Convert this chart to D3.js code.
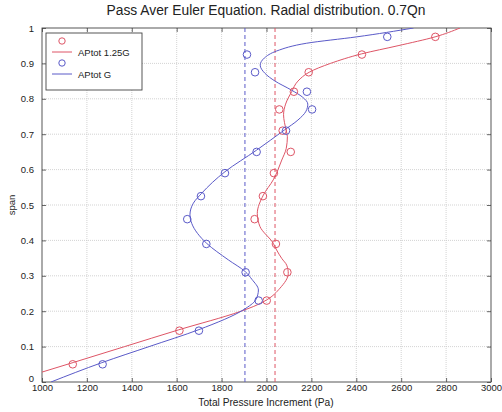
<!DOCTYPE html>
<html>
<head>
<meta charset="utf-8">
<script src="https://cdn.jsdelivr.net/npm/d3@7"></script>
<style>
  body { margin: 0; background: #fff; }
  text { font-family: "Liberation Sans", Arial, sans-serif; fill: #222; }
</style>
</head>
<body>
<svg id="chart" width="502" height="412"></svg>
<script>
// Measured points (span positions shared by both series)
const spanPoints = [0.05, 0.145, 0.23, 0.31, 0.39, 0.46, 0.525, 0.59, 0.65, 0.71, 0.77, 0.82, 0.875, 0.925, 0.975];
const redPoints  = [1137, 1612, 2001, 2093, 2042, 1947, 1984, 2033, 2108, 2072, 2057, 2122, 2188, 2425, 2752];
const bluePoints = [1270, 1699, 1965, 1907, 1732, 1647, 1708, 1815, 1956, 2087, 2203, 2180, 1949, 1913, 2538];

// Fitted curves (span, pressure)
const redCurveSpan = [0.028, 0.055, 0.1, 0.147, 0.199, 0.213, 0.232, 0.265, 0.307, 0.33, 0.349, 0.373, 0.392, 0.439, 0.476, 0.528, 0.571, 0.627, 0.66, 0.693, 0.712, 0.755, 0.785, 0.82, 0.85, 0.875, 0.9, 0.927, 0.95, 0.975, 1.0];
const redCurvePa   = [1000, 1139, 1368, 1607, 1882, 1941, 2001, 2060, 2097, 2090, 2068, 2045, 2030, 1971, 1959, 1986, 2030, 2068, 2088, 2093, 2087, 2076, 2085, 2112, 2140, 2190, 2285, 2424, 2586, 2751, 2862];

const blueCurveSpan = [0.0, 0.0545, 0.1, 0.148, 0.205, 0.232, 0.26, 0.29, 0.312, 0.345, 0.392, 0.448, 0.472, 0.505, 0.533, 0.594, 0.655, 0.712, 0.74, 0.765, 0.785, 0.805, 0.825, 0.85, 0.872, 0.895, 0.915, 0.935, 0.957, 0.975, 1.0];
const blueCurvePa   = [1040, 1266, 1477, 1699, 1900, 1952, 1964, 1935, 1905, 1830, 1733, 1667, 1659, 1674, 1711, 1815, 1956, 2080, 2140, 2176, 2184, 2160, 2110, 2038, 1993, 1972, 1990, 2045, 2179, 2402, 2655];

// Mean values (dashed verticals)
const redMean = 2038;
const blueMean = 1904;

const xTicks = [1000, 1200, 1400, 1600, 1800, 2000, 2200, 2400, 2600, 2800, 3000];
const yTicks = [0, 0.1, 0.2, 0.3, 0.4, 0.5, 0.6, 0.7, 0.8, 0.9, 1];
const yTickLabels = ["0", "0.1", "0.2", "0.3", "0.4", "0.5", "0.6", "0.7", "0.8", "0.9", "1"];

const seriesNames = ["APtot 1.25G", "APtot G"];
const RED = "#de5566";
const BLUE = "#5a5ac8";

const svg = d3.select("#chart");
const L = 42, R = 491, T = 28, B = 382;

const x = d3.scaleLinear().domain([1000, 3000]).range([L, R]);
const y = d3.scaleLinear().domain([0, 1]).range([B, T]);

// Grid
const grid = svg.append("g");
grid.selectAll(".gx").data(xTicks.slice(1, -1)).join("line")
  .attr("x1", d => x(d)).attr("x2", d => x(d)).attr("y1", T).attr("y2", B)
  .attr("stroke", "#c8c8c8").attr("stroke-width", 0.8).attr("stroke-dasharray", "1,1");
grid.selectAll(".gy").data(yTicks.slice(1, -1)).join("line")
  .attr("x1", L).attr("x2", R).attr("y1", d => y(d)).attr("y2", d => y(d))
  .attr("stroke", "#c8c8c8").attr("stroke-width", 0.8).attr("stroke-dasharray", "1,1");

// Axes: ticks drawn inward on all four sides
const tickLen = 4;
const axB = svg.append("g").attr("transform", `translate(0,${B})`)
  .call(d3.axisBottom(x).tickValues(xTicks).tickSize(-tickLen).tickPadding(2.5).tickFormat(d3.format("d")));
const axT = svg.append("g").attr("transform", `translate(0,${T})`)
  .call(d3.axisTop(x).tickValues(xTicks).tickSize(-tickLen).tickFormat(""));
const axL = svg.append("g").attr("transform", `translate(${L},0)`)
  .call(d3.axisLeft(y).tickValues(yTicks).tickSize(-tickLen).tickPadding(4 + tickLen).tickFormat((d, i) => yTickLabels[i]));
const axR = svg.append("g").attr("transform", `translate(${R},0)`)
  .call(d3.axisRight(y).tickValues(yTicks).tickSize(-tickLen).tickFormat(""));
[axB, axT, axL, axR].forEach(a => {
  a.select(".domain").remove();
  a.selectAll(".tick line").attr("stroke", "#444").attr("stroke-width", 0.8);
  a.selectAll("text").attr("font-size", 9.5).attr("fill", "#222")
    .style("font-family", "'Liberation Sans', Arial, sans-serif");
});
// the zero label sits just above the corner
axL.selectAll(".tick text").filter(d => d === 0).attr("dy", "-0.05em");

// Frame
svg.append("rect").attr("x", L).attr("y", T).attr("width", R - L).attr("height", B - T)
  .attr("fill", "none").attr("stroke", "#444").attr("stroke-width", 0.9);

// Mean dashed lines
svg.append("line").attr("x1", x(blueMean)).attr("x2", x(blueMean)).attr("y1", T).attr("y2", B)
  .attr("stroke", BLUE).attr("stroke-width", 1).attr("stroke-dasharray", "4,3");
svg.append("line").attr("x1", x(redMean)).attr("x2", x(redMean)).attr("y1", T).attr("y2", B)
  .attr("stroke", RED).attr("stroke-width", 1).attr("stroke-dasharray", "4,3");

// Curves: span is the independent variable
const line = d3.line().x(d => x(d[1])).y(d => y(d[0])).curve(d3.curveMonotoneY);
svg.append("clipPath").attr("id", "plotclip").append("rect")
  .attr("x", L).attr("y", T).attr("width", R - L).attr("height", B - T);
svg.append("path").datum(d3.zip(redCurveSpan, redCurvePa)).attr("d", line)
  .attr("fill", "none").attr("stroke", RED).attr("stroke-width", 1).attr("clip-path", "url(#plotclip)");
svg.append("path").datum(d3.zip(blueCurveSpan, blueCurvePa)).attr("d", line)
  .attr("fill", "none").attr("stroke", BLUE).attr("stroke-width", 1).attr("clip-path", "url(#plotclip)");

// Markers
svg.append("g").selectAll("circle").data(d3.zip(spanPoints, redPoints)).join("circle")
  .attr("cx", d => x(d[1])).attr("cy", d => y(d[0])).attr("r", 3.8)
  .attr("fill", "none").attr("stroke", RED).attr("stroke-width", 1);
svg.append("g").selectAll("circle").data(d3.zip(spanPoints, bluePoints)).join("circle")
  .attr("cx", d => x(d[1])).attr("cy", d => y(d[0])).attr("r", 3.8)
  .attr("fill", "none").attr("stroke", BLUE).attr("stroke-width", 1);

// Legend
const lg = svg.append("g");
lg.append("rect").attr("x", 46).attr("y", 33).attr("width", 96).attr("height", 57)
  .attr("fill", "#fff").attr("stroke", "#444").attr("stroke-width", 0.9);
[RED, BLUE].forEach((c, i) => {
  const oy = 41 + i * 22;
  lg.append("circle").attr("cx", 62).attr("cy", oy).attr("r", 3.2)
    .attr("fill", "none").attr("stroke", c).attr("stroke-width", 1);
  lg.append("line").attr("x1", 52).attr("x2", 72).attr("y1", oy + 11).attr("y2", oy + 11)
    .attr("stroke", c).attr("stroke-width", 1);
  lg.append("text").attr("x", 78).attr("y", oy + 14.5).attr("font-size", 9.5).text(seriesNames[i]);
});

// Titles
svg.append("text").attr("x", 266).attr("y", 15).attr("text-anchor", "middle")
  .attr("font-size", 13.8).text("Pass Aver Euler Equation. Radial distribution. 0.7Qn");
svg.append("text").attr("x", 266).attr("y", 406).attr("text-anchor", "middle")
  .attr("font-size", 10.2).text("Total Pressure Increment (Pa)");
svg.append("text").attr("transform", `translate(15,${y(0.5)}) rotate(-90)`).attr("text-anchor", "middle")
  .attr("font-size", 9.5).text("span");
</script>
</body>
</html>
